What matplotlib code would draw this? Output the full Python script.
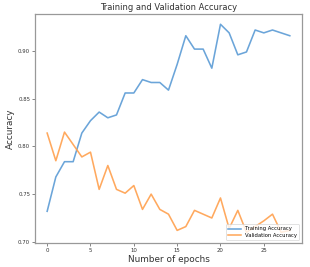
import matplotlib
matplotlib.use("Agg")
import matplotlib.pyplot as plt

epochs = list(range(29))
train_acc = [0.732, 0.768, 0.784, 0.784, 0.814, 0.827, 0.836, 0.830, 0.833, 0.856,
             0.856, 0.870, 0.867, 0.867, 0.859, 0.886, 0.916, 0.902, 0.902, 0.882,
             0.928, 0.919, 0.896, 0.899, 0.922, 0.919, 0.922, 0.919, 0.916]
val_acc = [0.814, 0.785, 0.815, 0.802, 0.789, 0.794, 0.755, 0.780, 0.755, 0.751,
           0.759, 0.734, 0.750, 0.734, 0.729, 0.712, 0.716, 0.733, 0.729, 0.725,
           0.746, 0.714, 0.733, 0.710, 0.716, 0.722, 0.729, 0.710, 0.712]

fig = plt.figure(figsize=(3.1, 2.67), dpi=100)
ax = fig.add_axes([0.113, 0.091, 0.861, 0.857])
ax.plot(epochs, train_acc, color="#5b9bd5", lw=1.15, label="Training Accuracy", alpha=0.9)
ax.plot(epochs, val_acc, color="#ffa04d", lw=1.15, label="Validation Accuracy", alpha=0.9)
ax.set_yticks([0.70, 0.75, 0.80, 0.85, 0.90])
ax.set_xticks([0, 5, 10, 15, 20, 25])
ax.tick_params(labelsize=3.9, length=2, width=0.5, color="#555555", labelcolor="#333333", pad=1.5)
for s in ax.spines.values():
    s.set_color("#999999")
    s.set_linewidth(0.9)
ax.set_title("Training and Validation Accuracy", fontsize=6.0, color="#333333", pad=3)
ax.set_xlabel("Number of epochs", fontsize=6.4, color="#333333", labelpad=1.5)
ax.set_ylabel("Accuracy", fontsize=6.4, color="#333333", labelpad=2)
leg = ax.legend(loc="lower right", fontsize=3.8, frameon=True, borderpad=0.4,
                handlelength=2.5, labelspacing=0.3)
leg.get_frame().set_linewidth(0.5)
fig.savefig("out.png", dpi=100)
